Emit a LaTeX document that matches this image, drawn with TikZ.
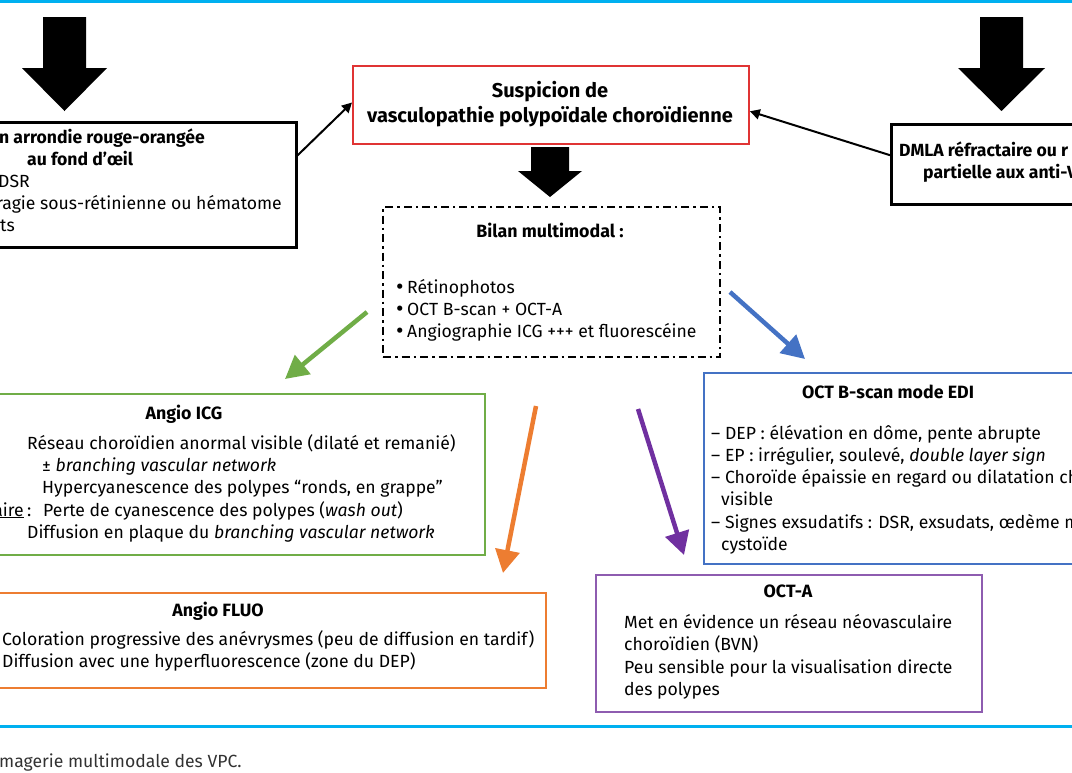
\documentclass[tikz,border=0pt]{standalone}
\usepackage{fontspec}
\setmainfont{Fira Sans}
\usetikzlibrary{arrows.meta,calc}
\definecolor{cyanline}{RGB}{0,176,240}
\definecolor{redbox}{RGB}{224,52,52}
\definecolor{greenc}{RGB}{112,173,71}
\definecolor{orangec}{RGB}{237,125,49}
\definecolor{bluec}{RGB}{68,114,196}
\definecolor{purplec}{RGB}{112,48,160}
\definecolor{purplebox}{RGB}{142,92,176}
\definecolor{captc}{RGB}{50,50,50}
\newcommand{\mybul}{\makebox[11pt][l]{\raisebox{-1.8pt}{\fontsize{23}{22}\selectfont •}}}
\begin{document}
\begin{tikzpicture}[x=1pt,y=-1pt,
  txt/.style={inner sep=0pt, font=\fontsize{17.6}{22}\selectfont, anchor=base west},
  txtb/.style={txt, font=\fontsize{17.6}{22}\selectfont\bfseries},
  ttl/.style={inner sep=0pt, font=\fontsize{17.8}{22}\selectfont\bfseries, anchor=base},
  ttlL/.style={inner sep=0pt, font=\fontsize{20}{25}\selectfont\bfseries, anchor=base},
  frame/.style={draw, line width=#1, inner sep=0pt, anchor=north west},
  blockarr/.style={fill=black},
  thinarr/.style={draw=black, line width=2pt, -{Triangle[width=10pt,length=10pt]}},
  colarr/.style={draw=#1, line width=4.5pt, -{Triangle[width=24pt,length=23pt]}},
  dashdot/.style={dash pattern=on 8pt off 4pt on 2.5pt off 4pt}
]
\useasboundingbox (0,0) rectangle (1072,772);
\clip (0,0) rectangle (1072,772);

% cyan rules
\draw[cyanline, line width=3pt] (0,1.5) -- (1072,1.5);
\draw[cyanline, line width=3pt] (0,726) -- (1072,726);

% block arrows
\fill[blockarr] (43,17) -- (86,17) -- (86,68) -- (107,68) -- (64.5,111) -- (22,68) -- (43,68) -- cycle;
\fill[blockarr] (980,17) -- (1023,17) -- (1023,68) -- (1045,68) -- (1001.5,111) -- (958,68) -- (980,68) -- cycle;
\fill[blockarr] (531,147) -- (569,147) -- (569,171) -- (582,171) -- (550,197) -- (518,171) -- (531,171) -- cycle;

% left box
\node[frame=2.5pt, minimum width=315pt, minimum height=125pt] (lbox) at (-20,121) {};
\node[txtb, anchor=base east] (l1) at (205,143) {n arrondie rouge-orangée};
\node[txtb] (l2) at (27,165) {au fond d’œil};
\node[txt] (l3) at (-2,187) {DSR};
\node[txt, anchor=base east] (l4) at (282,209) {ragie sous-rétinienne ou hématome};
\node[txt, anchor=base east] (l5) at (15,231) {ts};

% red box
\node[frame=1.8pt, draw=redbox, minimum width=396pt, minimum height=78pt] (red) at (352,65) {};
\node[ttlL] (r1) at (550,97) {Suspicion de};
\node[ttlL] (r2) at (550,122) {vasculopathie polypoïdale choroïdienne};

% right box
\node[frame=2.5pt, minimum width=200pt, minimum height=80pt] (rbox) at (890,123) {};
\node[txtb] (d1) at (899,156) {DMLA réfractaire ou r};
\node[txtb] (d2) at (923,178) {partielle aux anti-V};

% bilan box
\node[frame=2.3pt, dashdot, minimum width=337pt, minimum height=150pt] (bilan) at (382,206) {};
\node[ttl] (bt) at (550,237) {Bilan multimodal :};
\node[txt] (bl1) at (396,293) {\mybul Rétinophotos};
\node[txt] (bl2) at (396,315) {\mybul OCT B-scan + OCT-A};
\node[txt] (bl3) at (396,337) {\mybul Angiographie ICG +++ et fluorescéine};

% green box
\node[frame=2pt, draw=greenc, minimum width=504pt, minimum height=161pt] (icg) at (-20,393) {};
\node[ttl] (g0) at (184,419) {Angio ICG};
\node[txt] (g1) at (27,449) {Réseau choroïdien anormal visible (dilaté et remanié)};
\node[txt] (g2) at (42,471) {± \textit{branching vascular network}};
\node[txt] (g3) at (42,493) {Hypercyanescence des polypes “ronds, en grappe”};
\node[txt, anchor=base east] (g4a) at (24,516) {\underline{aire}};
\node[txt] (g4b) at (27,516) {:};
\node[txt] (g4c) at (43,516) {Perte de cyanescence des polypes (\textit{wash out})};
\node[txt] (g5) at (27,538) {Diffusion en plaque du \textit{branching vascular network}};

% orange box
\node[frame=2pt, draw=orangec, minimum width=565pt, minimum height=95pt] (fluo) at (-20,592) {};
\node[ttl] (o0) at (218,616) {Angio FLUO};
\node[txt] (o1) at (2,645) {Coloration progressive des anévrysmes (peu de diffusion en tardif)};
\node[txt] (o2) at (2,667) {Diffusion avec une hyperfluorescence (zone du DEP)};

% blue box
\node[frame=1.5pt, draw=bluec, minimum width=387pt, minimum height=191pt] (edi) at (703,372) {};
\node[ttl] (e0) at (888,398) {OCT B-scan mode EDI};
\node[txt] (e1) at (711,439) {– DEP : élévation en dôme, pente abrupte};
\node[txt] (e2) at (711,461) {– EP : irrégulier, soulevé, \textit{double layer sign}};
\node[txt] (e3) at (711,483) {– Choroïde épaissie en regard ou dilatation ch};
\node[txt] (e4) at (721,505) {visible};
\node[txt] (e5) at (711,528) {– Signes exsudatifs : DSR, exsudats, œdème m};
\node[txt] (e6) at (721,550) {cystoïde};

% purple box
\node[frame=2pt, draw=purplebox, minimum width=386pt, minimum height=137pt] (octa) at (595,574) {};
\node[ttl] (p0) at (788,597) {OCT-A};
\node[txt] (p1) at (624,628) {Met en évidence un réseau néovasculaire};
\node[txt] (p2) at (624,650) {choroïdien (BVN)};
\node[txt] (p3) at (624,673) {Peu sensible pour la visualisation directe};
\node[txt] (p4) at (624,695) {des polypes};

% caption
\node[txt, text=captc] (cap) at (-1,767) {magerie multimodale des VPC.};

% thin black connectors
\coordinate (ls) at ($(lbox.north east)!0.27!(lbox.south east)$);
\coordinate (lt) at ($(red.north west)!0.47!(red.south west)$);
\coordinate (rs) at ($(rbox.north west)!0.39!(rbox.south west)$);
\coordinate (rt) at ($(red.north east)!0.58!(red.south east)$);
\draw[thinarr] (ls) -- (lt);
\draw[thinarr] (rs) -- (rt);

% coloured connectors
\coordinate (gs) at (367,312); \coordinate (ge) at (285,379);
\coordinate (bs) at (730,292); \coordinate (be) at (805,359);
\coordinate (os) at (536,406); \coordinate (oe) at (503,573);
\coordinate (ps) at (638,409); \coordinate (pe) at (684,555);
\draw[colarr=greenc] (gs) -- (ge);
\draw[colarr=bluec] (bs) -- (be);
\draw[colarr=orangec] (os) -- (oe);
\draw[colarr=purplec] (ps) -- (pe);
\end{tikzpicture}
\end{document}
